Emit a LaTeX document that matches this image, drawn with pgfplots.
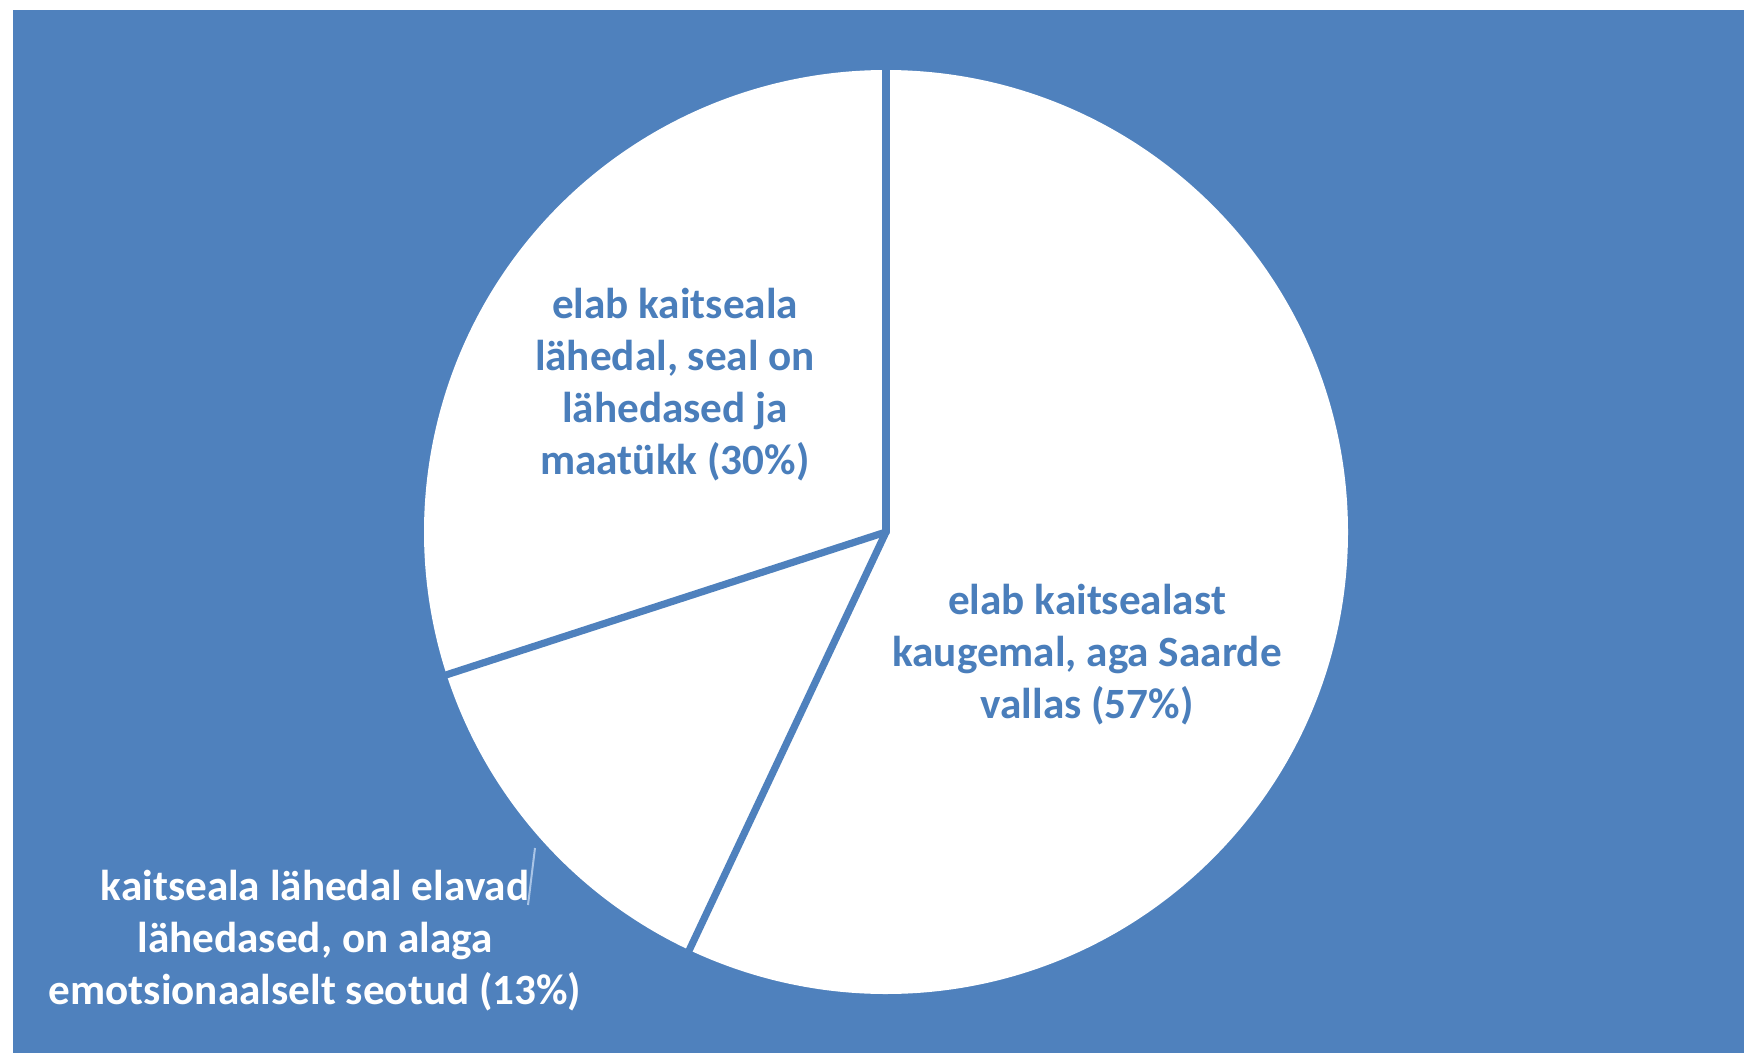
\documentclass[border=0pt]{standalone}
\usepackage{pgfplots}
\pgfplotsset{compat=1.18}
\usepackage{fontspec}
\setmainfont{Carlito}
\definecolor{pieblue}{HTML}{4F81BD}
\definecolor{txtblue}{HTML}{4A7EBB}
\definecolor{leader}{HTML}{A9C4E6}
\begin{document}
\begin{tikzpicture}
% slice values (percent), clockwise from 12 o'clock
\def\va{57}\def\vb{13}\def\vc{30}
\pgfmathsetmacro\aS{90}
\pgfmathsetmacro\aA{90-3.6*\va}
\pgfmathsetmacro\aB{\aA-3.6*\vb}
\pgfmathsetmacro\aC{\aB-3.6*\vc}
\def\R{115.5pt}
\begin{axis}[x=0.25pt, y=0.25pt, xmin=0, xmax=1744, ymin=0, ymax=1053,
  hide axis, scale only axis, clip=false]
\fill[white] (axis cs:0,0) rectangle (axis cs:1744,1053);
\fill[pieblue] (axis cs:13,0) rectangle (axis cs:1744,1043);
% sectors
\fill[white] (axis cs:886,521) -- ++(\aS:\R) arc[start angle=\aS, end angle=\aA, radius=\R] -- cycle;
\fill[white] (axis cs:886,521) -- ++(\aA:\R) arc[start angle=\aA, end angle=\aB, radius=\R] -- cycle;
\fill[white] (axis cs:886,521) -- ++(\aB:\R) arc[start angle=\aB, end angle=\aC, radius=\R] -- cycle;
% separators
\draw[pieblue, line width=1.8pt, line cap=round] (axis cs:886,521) -- ++(\aS:\R);
\draw[pieblue, line width=1.8pt, line cap=round] (axis cs:886,521) -- ++(\aA:\R);
\draw[pieblue, line width=1.8pt, line cap=round] (axis cs:886,521) -- ++(\aB:\R);
% leader line
\draw[leader, line width=0.5pt] (axis cs:535,205) -- (axis cs:528,148);
% labels
\node[txtblue, font=\bfseries\fontsize{10.8}{13}\selectfont, align=center] at (axis cs:675,668)
  {elab kaitseala\\lähedal, seal on\\lähedased ja\\maatükk (30\%)};
\node[txtblue, font=\bfseries\fontsize{10.8}{13}\selectfont, align=center] at (axis cs:1087,398)
  {elab kaitsealast\\kaugemal, aga Saarde\\vallas (57\%)};
\node[white, font=\bfseries\fontsize{10.8}{13}\selectfont, align=center] at (axis cs:315,112)
  {kaitseala lähedal elavad\\lähedased, on alaga\\emotsionaalselt seotud (13\%)};
\end{axis}
\end{tikzpicture}
\end{document}
